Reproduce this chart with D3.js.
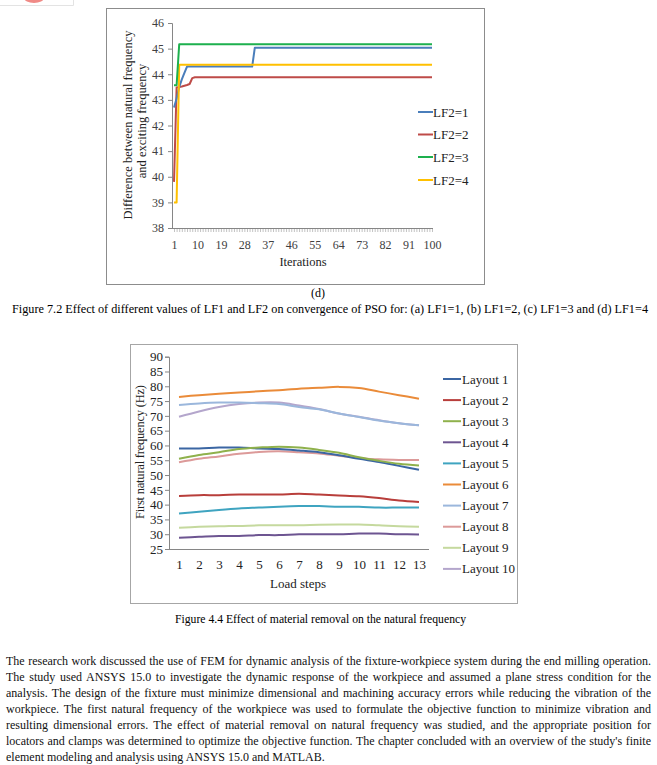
<!DOCTYPE html>
<html><head><meta charset="utf-8">
<script src="https://cdn.jsdelivr.net/npm/d3@7"></script>
<style>body{margin:0;background:#fff}svg{display:block}text{font-family:"Liberation Serif","Times New Roman",serif}</style>
</head><body>
<svg id="c" width="657" height="765"></svg>
<script>
// ---------- DATA: Figure 7.2 (d) ----------
const iterations = d3.range(1, 101);
const iterTickLabels = [1,10,19,28,37,46,55,64,73,82,91,100];
const lf2Names = ["LF2=1","LF2=2","LF2=3","LF2=4"];
const lf2_1 = [42.7,43.05,43.5,43.8,44.05,44.3,44.3,44.3,44.3,44.3,
 44.3,44.3,44.3,44.3,44.3,44.3,44.3,44.3,44.3,44.3,
 44.3,44.3,44.3,44.3,44.3,44.3,44.3,44.3,44.3,44.3,
 44.3,45.03,45.03,45.03,45.03,45.03,45.03,45.03,45.03,45.03,
 45.03,45.03,45.03,45.03,45.03,45.03,45.03,45.03,45.03,45.03,
 45.03,45.03,45.03,45.03,45.03,45.03,45.03,45.03,45.03,45.03,
 45.03,45.03,45.03,45.03,45.03,45.03,45.03,45.03,45.03,45.03,
 45.03,45.03,45.03,45.03,45.03,45.03,45.03,45.03,45.03,45.03,
 45.03,45.03,45.03,45.03,45.03,45.03,45.03,45.03,45.03,45.03,
 45.03,45.03,45.03,45.03,45.03,45.03,45.03,45.03,45.03,45.03];
const lf2_2 = [39.8,43.48,43.5,43.52,43.55,43.58,43.62,43.85,43.88,43.88,
 43.88,43.88,43.88,43.88,43.88,43.88,43.88,43.88,43.88,43.88,
 43.88,43.88,43.88,43.88,43.88,43.88,43.88,43.88,43.88,43.88,
 43.88,43.88,43.88,43.88,43.88,43.88,43.88,43.88,43.88,43.88,
 43.88,43.88,43.88,43.88,43.88,43.88,43.88,43.88,43.88,43.88,
 43.88,43.88,43.88,43.88,43.88,43.88,43.88,43.88,43.88,43.88,
 43.88,43.88,43.88,43.88,43.88,43.88,43.88,43.88,43.88,43.88,
 43.88,43.88,43.88,43.88,43.88,43.88,43.88,43.88,43.88,43.88,
 43.88,43.88,43.88,43.88,43.88,43.88,43.88,43.88,43.88,43.88,
 43.88,43.88,43.88,43.88,43.88,43.88,43.88,43.88,43.88,43.88];
const lf2_3 = [43.57,43.57,45.17,45.17,45.17,45.17,45.17,45.17,45.17,45.17,
 45.17,45.17,45.17,45.17,45.17,45.17,45.17,45.17,45.17,45.17,
 45.17,45.17,45.17,45.17,45.17,45.17,45.17,45.17,45.17,45.17,
 45.17,45.17,45.17,45.17,45.17,45.17,45.17,45.17,45.17,45.17,
 45.17,45.17,45.17,45.17,45.17,45.17,45.17,45.17,45.17,45.17,
 45.17,45.17,45.17,45.17,45.17,45.17,45.17,45.17,45.17,45.17,
 45.17,45.17,45.17,45.17,45.17,45.17,45.17,45.17,45.17,45.17,
 45.17,45.17,45.17,45.17,45.17,45.17,45.17,45.17,45.17,45.17,
 45.17,45.17,45.17,45.17,45.17,45.17,45.17,45.17,45.17,45.17,
 45.17,45.17,45.17,45.17,45.17,45.17,45.17,45.17,45.17,45.17];
const lf2_4 = [39,39,44.37,44.37,44.37,44.37,44.37,44.37,44.37,44.37,
 44.37,44.37,44.37,44.37,44.37,44.37,44.37,44.37,44.37,44.37,
 44.37,44.37,44.37,44.37,44.37,44.37,44.37,44.37,44.37,44.37,
 44.37,44.37,44.37,44.37,44.37,44.37,44.37,44.37,44.37,44.37,
 44.37,44.37,44.37,44.37,44.37,44.37,44.37,44.37,44.37,44.37,
 44.37,44.37,44.37,44.37,44.37,44.37,44.37,44.37,44.37,44.37,
 44.37,44.37,44.37,44.37,44.37,44.37,44.37,44.37,44.37,44.37,
 44.37,44.37,44.37,44.37,44.37,44.37,44.37,44.37,44.37,44.37,
 44.37,44.37,44.37,44.37,44.37,44.37,44.37,44.37,44.37,44.37,
 44.37,44.37,44.37,44.37,44.37,44.37,44.37,44.37,44.37,44.37];
const topYTicks = [38,39,40,41,42,43,44,45,46];

// ---------- DATA: Figure 4.4 ----------
const loadSteps = [1,2,3,4,5,6,7,8,9,10,11,12,13];
const layoutNames = ["Layout 1","Layout 2","Layout 3","Layout 4","Layout 5","Layout 6","Layout 7","Layout 8","Layout 9","Layout 10"];
const layout1  = [59.0,59.0,59.3,59.3,59.0,58.8,58.3,57.7,56.7,55.5,54.4,53.1,51.8];
const layout2  = [42.9,43.2,43.2,43.4,43.4,43.4,43.7,43.4,43.1,42.8,42.2,41.4,40.9];
const layout3  = [55.5,56.8,57.7,58.8,59.3,59.6,59.3,58.5,57.5,56.0,54.8,53.8,53.2];
const layout4  = [28.8,29.1,29.4,29.4,29.7,29.7,30.0,30.0,30.0,30.2,30.2,30.0,29.9];
const layout5  = [37.0,37.6,38.2,38.7,39.0,39.3,39.5,39.5,39.3,39.3,39.0,39.0,39.0];
const layout6  = [76.4,77.0,77.5,77.9,78.3,78.7,79.2,79.5,79.8,79.4,78.2,77.0,75.8];
const layout7  = [73.7,74.2,74.5,74.5,74.3,74.0,73.0,72.2,70.8,69.6,68.4,67.5,66.8];
const layout8  = [54.3,55.5,56.3,57.2,57.8,58.0,57.7,57.3,56.5,55.8,55.3,55.1,55.1];
const layout9  = [32.2,32.5,32.7,32.8,33.0,33.0,33.0,33.2,33.3,33.3,33.0,32.7,32.5];
const layout10 = [69.7,71.5,73.0,74.0,74.5,74.5,73.5,72.3,70.8,69.7,68.5,67.5,66.8];
const botYTicks = [25,30,35,40,45,50,55,60,65,70,75,80,85,90];

const paragraph = [
 "The research work discussed the use of FEM for dynamic analysis of the fixture-workpiece system during the end milling operation.",
 "The study used ANSYS 15.0 to investigate the dynamic response of the workpiece and assumed a plane stress condition for the",
 "analysis. The design of the fixture must minimize dimensional and machining accuracy errors while reducing the vibration of the",
 "workpiece. The first natural frequency of the workpiece was used to formulate the objective function to minimize vibration and",
 "resulting dimensional errors. The effect of material removal on natural frequency was studied, and the appropriate position for",
 "locators and clamps was determined to optimize the objective function. The chapter concluded with an overview of the study's finite",
 "element modeling and analysis using ANSYS 15.0 and MATLAB."
];

// ---------- DRAW ----------
const svg = d3.select("#c");
svg.append("rect").attr("width",657).attr("height",765).attr("fill","#fff");

// artifact from previous page (top-left)
svg.append("path").attr("d","M0,5.5 H73.5 V0").attr("fill","none").attr("stroke","#e3e3e3");
svg.append("ellipse").attr("cx",34).attr("cy",-2).attr("rx",10).attr("ry",5).attr("fill","#f08a86");

// ===== Top chart =====
const T = svg.append("g");
T.append("rect").attr("x",106.5).attr("y",8.5).attr("width",378).attr("height",276)
  .attr("fill","#fff").attr("stroke","#8c8c8c");
const ty = d3.scaleLinear().domain([38,46]).range([228,23]);
const tx = d3.scalePoint().domain(iterations).range([174,432]);

const tyAxis = T.append("g").attr("transform","translate(172,0)")
  .call(d3.axisLeft(ty).tickValues(topYTicks).tickSize(4).tickPadding(4).tickFormat(d3.format("d")));
tyAxis.select(".domain").attr("stroke","#868686");
tyAxis.selectAll(".tick line").attr("stroke","#868686");
tyAxis.selectAll(".tick text").attr("fill","#404040").style("font-size","12px").style("font-family","Liberation Serif");

const txAxis = T.append("g").attr("transform","translate(0,228)")
  .call(d3.axisBottom(tx).tickSize(4).tickPadding(8).tickFormat(d => iterTickLabels.includes(d) ? d : ""));
txAxis.select(".domain").remove();
txAxis.selectAll(".tick line").attr("stroke","#9a9a9a").attr("stroke-width",0.6);
txAxis.selectAll(".tick text").attr("fill","#404040").style("font-size","12px").style("font-family","Liberation Serif");
T.append("line").attr("x1",172).attr("x2",433).attr("y1",228.5).attr("y2",228.5).attr("stroke","#868686");

const topSeries = [lf2_1, lf2_2, lf2_3, lf2_4];
const topColors = ["#4a7ebb","#be4b48","#1db04e","#ffc000"];
const tline = d3.line().x((d,i)=>tx(iterations[i])).y(d=>ty(d));
[1,0,3,2].forEach(k=>{
  T.append("path").attr("d",tline(topSeries[k])).attr("fill","none")
   .attr("stroke",topColors[k]).attr("stroke-width",2).attr("stroke-linejoin","round");
});
const tLegY = [112,134.5,157,180];
lf2Names.forEach((n,i)=>{
  T.append("line").attr("x1",418).attr("x2",433).attr("y1",tLegY[i]).attr("y2",tLegY[i])
    .attr("stroke",topColors[i]).attr("stroke-width",2);
  T.append("text").attr("x",433).attr("y",tLegY[i]+4.5).text(n).style("font-size","13px").attr("fill","#222");
});
T.append("text").attr("x",303).attr("y",266).attr("text-anchor","middle").style("font-size","12.5px").attr("fill","#222").text("Iterations");
T.append("text").attr("transform","translate(132,125) rotate(-90)").attr("text-anchor","middle")
  .style("font-size","12.5px").attr("fill","#222").text("Difference between natural frequency");
T.append("text").attr("transform","translate(146,121) rotate(-90)").attr("text-anchor","middle")
  .style("font-size","12.5px").attr("fill","#222").text("and exciting frequency");

svg.append("text").attr("x",318).attr("y",297).attr("text-anchor","middle").style("font-size","12px").text("(d)");
svg.append("text").attr("x",12).attr("y",313).attr("textLength",636).attr("lengthAdjust","spacingAndGlyphs")
  .style("font-size","12px").text("Figure 7.2 Effect of different values of LF1 and LF2 on convergence of PSO for: (a) LF1=1, (b) LF1=2, (c) LF1=3 and (d) LF1=4");

// ===== Bottom chart =====
const B = svg.append("g");
B.append("rect").attr("x",130.5).attr("y",344.5).attr("width",387).attr("height",259)
  .attr("fill","#fff").attr("stroke","#a6a6a6");
const by = d3.scaleLinear().domain([25,90]).range([549,356.7]);
const bx = d3.scaleBand().domain(loadSteps).range([169,429]);
const bcx = d => bx(d) + bx.bandwidth()/2;

const byAxis = B.append("g").attr("transform","translate(169,0)")
  .call(d3.axisLeft(by).tickValues(botYTicks).tickSize(4).tickPadding(2).tickFormat(d3.format("d")));
byAxis.select(".domain").attr("stroke","#868686");
byAxis.selectAll(".tick line").attr("stroke","#868686");
byAxis.selectAll(".tick text").attr("fill","#222").style("font-size","13px").style("font-family","Liberation Serif");

const bxAxis = B.append("g").attr("transform","translate(0,549)")
  .call(d3.axisBottom(d3.scalePoint().domain(loadSteps).range([bcx(1),bcx(13)])).tickSize(0).tickPadding(11));
bxAxis.select(".domain").remove();
bxAxis.selectAll(".tick text").attr("fill","#222").style("font-size","13px").style("font-family","Liberation Serif");
B.append("line").attr("x1",169).attr("x2",429).attr("y1",549.5).attr("y2",549.5).attr("stroke","#868686");

const botSeries = [layout1,layout2,layout3,layout4,layout5,layout6,layout7,layout8,layout9,layout10];
const botColors = ["#3b66a3","#b83e3b","#8fb14c","#6d5591","#3fa4c0","#ea8b39","#9bb7dc","#dc9a99","#c5d99e","#b4a6cc"];
const bline = d3.line().x((d,i)=>bcx(loadSteps[i])).y(d=>by(d)).curve(d3.curveCatmullRom.alpha(0.5));
[9,6,7,8,4,3,1,0,2,5].forEach(k=>{
  B.append("path").attr("d",bline(botSeries[k])).attr("fill","none")
   .attr("stroke",botColors[k]).attr("stroke-width",2);
});
layoutNames.forEach((n,i)=>{
  const yy = 379 + i*21.1;
  B.append("line").attr("x1",443).attr("x2",461).attr("y1",yy).attr("y2",yy)
    .attr("stroke",botColors[i]).attr("stroke-width",2);
  B.append("text").attr("x",462).attr("y",yy+4.5).text(n).style("font-size","13px").attr("fill","#222");
});
B.append("text").attr("x",298).attr("y",588).attr("text-anchor","middle").style("font-size","13px").attr("fill","#222").text("Load steps");
B.append("text").attr("transform","translate(144,452) rotate(-90)").attr("text-anchor","middle")
  .attr("textLength",134).attr("lengthAdjust","spacing")
  .style("font-size","12.5px").attr("fill","#222").text("First natural frequency (Hz)");

svg.append("text").attr("x",175).attr("y",623).attr("textLength",291).attr("lengthAdjust","spacingAndGlyphs")
  .style("font-size","12px").text("Figure 4.4 Effect of material removal on the natural frequency");

// ===== Paragraph (justified) =====
const P = svg.append("g");
paragraph.forEach((line,i)=>{
  const t = P.append("text").attr("x",6).attr("y",665 + i*16).style("font-size","12px").attr("fill","#111").text(line);
  if (i < paragraph.length-1) {
    const natural = t.node().getComputedTextLength();
    const spaces = (line.match(/ /g)||[]).length;
    const ws = (645 - natural)/spaces;
    t.attr("word-spacing", ws);
    if (t.node().getComputedTextLength() > 646 || ws < -1.5) {
      t.attr("word-spacing",0).attr("textLength",645).attr("lengthAdjust","spacingAndGlyphs");
    }
  }
});
</script>
</body></html>
